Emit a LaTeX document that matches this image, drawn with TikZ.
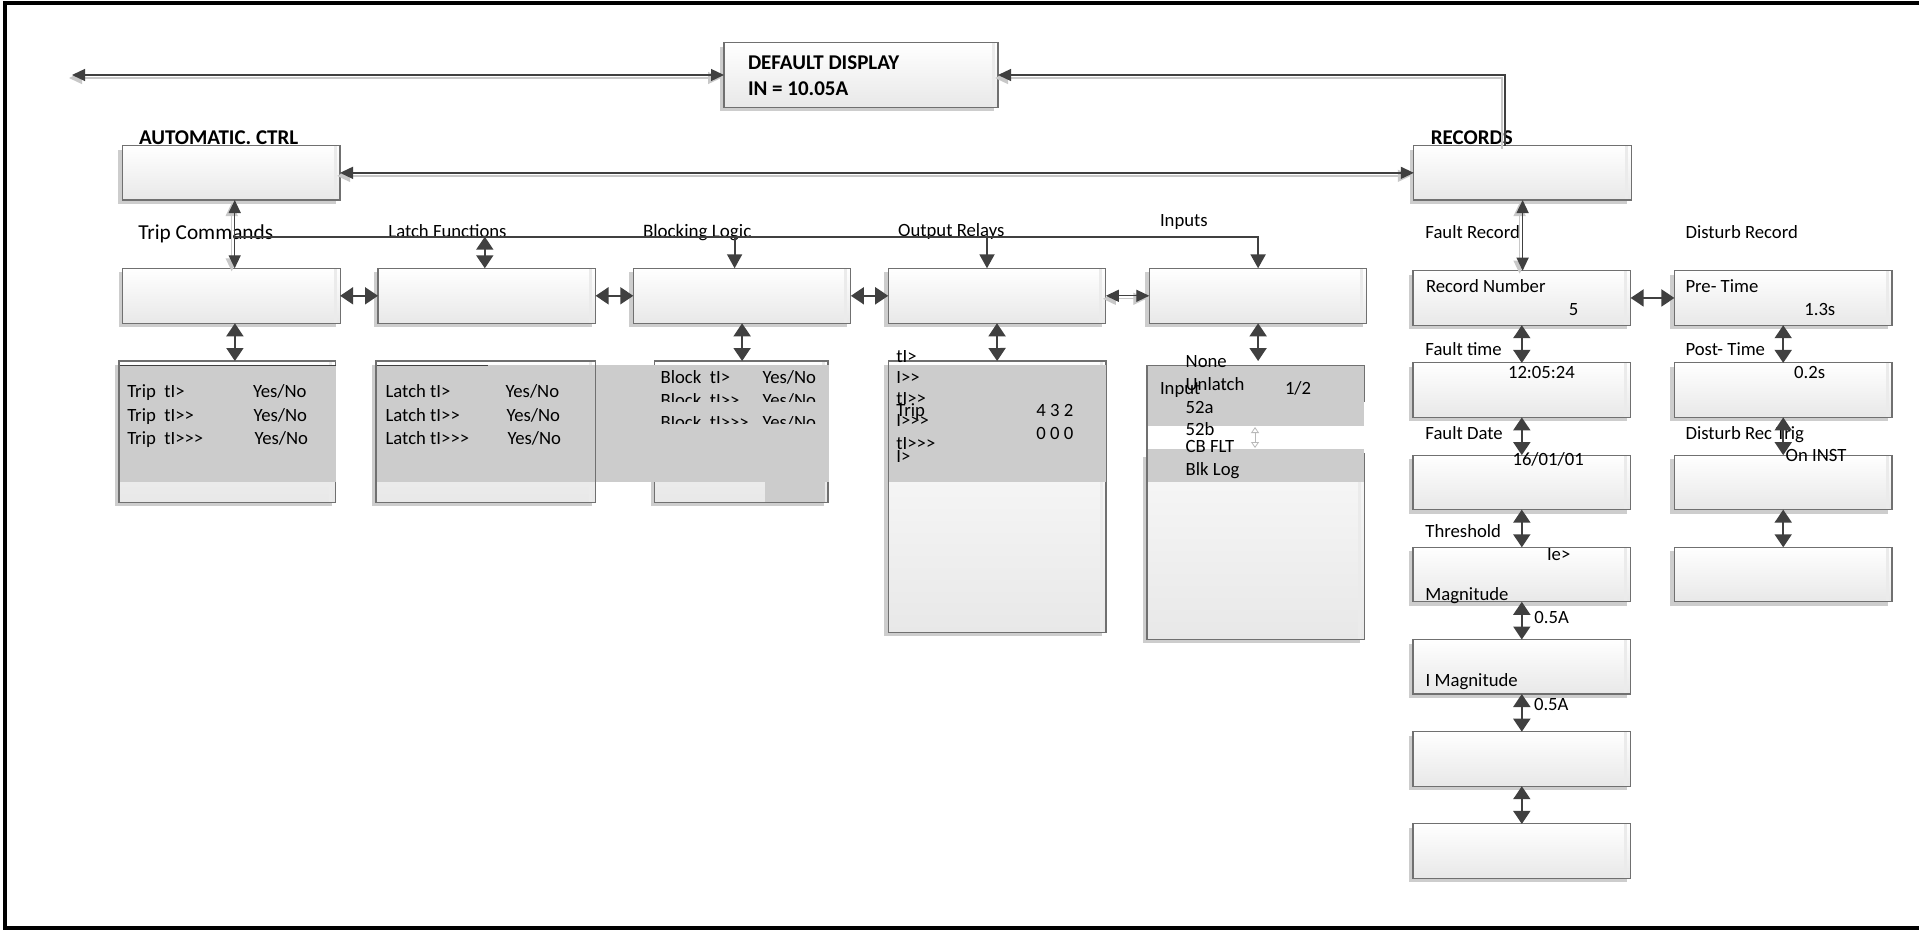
\documentclass[tikz,border=0pt]{standalone}
\usepackage{fontspec}
\setmainfont[Ligatures=TeXOff]{Carlito}
\usetikzlibrary{arrows.meta,shadows}
\definecolor{boxline}{RGB}{112,112,112}
\definecolor{boxbot}{RGB}{232,232,232}
\definecolor{shadowgray}{RGB}{205,205,205}
\definecolor{arrowdark}{RGB}{64,64,64}
\definecolor{lineshadow}{RGB}{200,200,200}
\definecolor{subgray}{RGB}{204,204,204}
\definecolor{ghost}{RGB}{185,185,185}
\newcommand\fsnorm{\fontsize{18.7}{22}\selectfont}
\newcommand\fsbig{\fontsize{21.3}{25}\selectfont}
\newcommand\fsblk{\fontsize{19}{22}\selectfont}
\newcommand\fsbold{\fontsize{21}{25}\selectfont\bfseries}
\tikzset{
  tipthin/.tip={Triangle[length=13pt,width=12pt]},
  tipthick/.tip={Triangle[length=13pt,width=17pt]},
  tipdrop/.tip={Triangle[length=14pt,width=15pt]},
  panel/.style={draw=boxline, line width=1.1pt, top color=white, bottom color=boxbot,
    inner sep=0pt, outer sep=0pt, anchor=north west,
    drop shadow={shadow xshift=-4pt, shadow yshift=-4pt, opacity=1, fill=shadowgray},
    path picture={\fill[gray!16] ([xshift=-6.5pt]path picture bounding box.north east)
      rectangle ([xshift=-3.5pt]path picture bounding box.south east);}},
  rowbox/.style={panel, minimum width=217.6pt, minimum height=55pt},
  colbox/.style={panel, minimum width=217.6pt, minimum height=54.5pt},
  lbl/.style={anchor=base west, inner sep=0pt, outer sep=0pt, font=\fsnorm},
  lblbold/.style={lbl, font=\fsbold},
  thinboth/.style={draw=arrowdark, line width=1.3pt, tipthin-tipthin,
    preaction={draw=lineshadow, line width=1.3pt, tipthin-tipthin,
      transform canvas={xshift=-3pt, yshift=-3pt}}},
  thinstart/.style={draw=arrowdark, line width=1.3pt, tipthin-,
    preaction={draw=lineshadow, line width=1.3pt, tipthin-,
      transform canvas={xshift=-3pt, yshift=-3pt}}},
  thickboth/.style={draw=arrowdark, line width=1.8pt, tipthick-tipthick},
  dropend/.style={draw=arrowdark, line width=1.8pt, -tipdrop},
  busline/.style={draw=arrowdark, line width=2.2pt, -tipdrop},
}
\begin{document}
\begin{tikzpicture}[x=1pt,y=-1pt]
\useasboundingbox (0,0) rectangle (1919,930);
\fill[white] (0,0) rectangle (1919,930);
% frame
\draw[line width=4pt, black] (1925,3) -- (5.3,3) -- (5.3,928) -- (1925,928);

% ---------- boxes ----------
\node[panel, minimum width=274pt, minimum height=64.6pt] (dd) at (724,42.7) {};
\node[panel, minimum width=217.6pt, minimum height=54.3pt] (auto) at (122.4,145.7) {};
\node[panel, minimum width=217.6pt, minimum height=54.3pt] (rec) at (1413.8,145.7) {};

\node[rowbox] (trip) at (122.5,268.3) {};
\node[rowbox] (latch) at (378,268.3) {};
\node[rowbox] (blk) at (633.3,268.3) {};
\node[rowbox] (outp) at (888.2,268.3) {};
\node[rowbox] (inp) at (1149.3,268.3) {};

\node[panel, minimum width=216.8pt, minimum height=141.3pt] (tripS) at (119,361) {};
\node[panel, minimum width=219.5pt, minimum height=141.3pt] (latchS) at (376,361) {};
\node[panel, minimum width=173.2pt, minimum height=141.3pt] (blkS) at (654.8,361) {};
\node[panel, minimum width=217.8pt, minimum height=271.3pt] (outS) at (888.2,361) {};
\node[panel, minimum width=217.3pt, minimum height=273.6pt] (inpS) at (1147,365.7) {};

\node[colbox] (rn) at (1413,270.7) {};
\node[colbox] (ft) at (1413,362.9) {};
\node[colbox] (fd) at (1413,455.1) {};
\node[colbox] (th) at (1413,547.3) {};
\node[colbox] (im) at (1413,639.5) {};
\node[colbox] (b6) at (1413,731.7) {};
\node[colbox] (b7) at (1413,823.9) {};
\node[colbox] (pt) at (1674.4,270.7) {};
\node[colbox] (pot) at (1674.4,362.9) {};
\node[colbox] (drt) at (1674.4,455.1) {};
\node[colbox] (b4) at (1674.4,547.3) {};

% ---------- grey fields ----------
\fill[subgray] (120,365) rectangle (335.8,481.7);
\draw[arrowdark, line width=1pt] (120,365) -- (335.8,365);
\fill[subgray] (376.5,365) rectangle (829.4,481.7);
\draw[arrowdark, line width=1pt] (376.5,365) -- (487.5,365);
\fill[subgray] (764.8,481.7) rectangle (824.6,501.7);
\draw[boxline, line width=1.1pt] (latchS.north east) -- (latchS.south east);
\fill[subgray] (888.7,365) rectangle (1105.5,481.7);
\fill[white] (1140,365) rectangle (1146.4,456.7);
\fill[subgray] (1147.5,365.7) rectangle (1364.3,425.7);
\fill[white] (1147.5,425.7) rectangle (1368,449.3);
\fill[subgray] (1147.5,449.3) rectangle (1364.3,481.7);
\fill[white] (1363.8,401.7) rectangle (1368.5,453);
\draw[boxline, line width=1.1pt] (inpS.north west) -- (inpS.south west);
\coordinate (g1) at (1255,427);
\coordinate (g2) at (1255,448);
\draw[ghost, line width=0.8pt, {Triangle[open,length=6pt,width=8pt]}-{Triangle[open,length=6pt,width=8pt]}] (g1) -- (g2);

% ---------- texts ----------
\node[lblbold] (t1) at (748,69) {DEFAULT DISPLAY};
\node[lblbold] (t2) at (748,95) {IN = 10.05A};
\node[lblbold] (t3) at (139,144) {AUTOMATIC. CTRL};
\node[lblbold] (t4) at (1430.8,144) {RECORDS};
\node[lbl, font=\fsbig] (t5) at (138.3,239.3) {Trip Commands};
\node[lbl] (t6) at (388.4,237.7) {Latch Functions};
\node[lbl, font=\fsblk] (t7) at (643,237.7) {Blocking Logic};
\node[lbl] (t8) at (898.2,236) {Output Relays};
\node[lbl] (t9) at (1160,226) {Inputs};
\node[lbl] (t10) at (1425.4,238.5) {Fault Record};
\node[lbl] (t11) at (1685.5,238.5) {Disturb Record};

\node[lbl] (a1) at (127.3,397.5) {Trip~~tI>};
\node[lbl] (a2) at (253,397.5) {Yes/No};
\node[lbl] (a3) at (127.3,421) {Trip~~tI>>};
\node[lbl] (a4) at (253.5,421) {Yes/No};
\node[lbl] (a5) at (127.3,444.3) {Trip~~tI>>>};
\node[lbl] (a6) at (254.5,444.3) {Yes/No};

\node[lbl] (b1) at (385.6,397.5) {Latch tI>};
\node[lbl] (b2) at (505.6,397.5) {Yes/No};
\node[lbl] (b3) at (385.6,421) {Latch tI>>};
\node[lbl] (b4t) at (506.5,421) {Yes/No};
\node[lbl] (b5) at (385.6,444.3) {Latch tI>>>};
\node[lbl] (b6t) at (507.5,444.3) {Yes/No};

\node[lbl] (c1) at (660.6,383.5) {Block~~tI>};
\node[lbl] (c2) at (762.5,383.5) {Yes/No};
\node[lbl] (c3) at (660.6,406) {Block~~tI>>};
\node[lbl] (c4) at (762.5,406) {Yes/No};
\node[lbl] (c5) at (660.6,428.5) {Block~~tI>>>};
\node[lbl] (c6) at (762.5,428.5) {Yes/No};
\fill[subgray] (655.5,401.7) rectangle (828,416.4);
\fill[subgray] (655.5,424) rectangle (828,442);

\node[lbl] (d1) at (896.4,362.2) {tI>};
\node[lbl] (d2) at (896.4,383.8) {I>>};
\node[lbl] (d3) at (896.4,404.5) {tI>>};
\node[lbl] (d4) at (896.4,416.5) {Trip};
\node[lbl] (d5) at (896.4,426.5) {I>>>};
\node[lbl] (d6) at (896.4,449.8) {tI>>>};
\node[lbl] (d7) at (896.4,462.2) {I>};
\node[lbl] (d8) at (1036.4,416.5) {4 3 2};
\node[lbl] (d9) at (1036.4,439.8) {0 0 0};

\node[lbl] (e1) at (1185.7,367.2) {None};
\node[lbl] (e2) at (1185.7,390.5) {Unlatch};
\node[lbl] (e3) at (1160,394.8) {Input};
\node[lbl] (e4) at (1285,394.8) {1/2};
\node[lbl] (e5) at (1185.7,413.8) {52a};
\node[lbl] (e6) at (1185.7,435.5) {52b};
\node[lbl] (e7) at (1185.7,452.2) {CB FLT};
\node[lbl] (e8) at (1185.7,475.5) {Blk Log};

\node[lbl] (f1) at (1426,292.7) {Record Number};
\node[lbl] (f2) at (1568.8,315.3) {5};
\node[lbl] (f3) at (1685.5,292.7) {Pre- Time};
\node[lbl] (f4) at (1804.3,315.3) {1.3s};
\node[lbl] (f5) at (1425.4,355.3) {Fault time};
\node[lbl] (f6) at (1508,378.7) {12:05:24};
\node[lbl] (f7) at (1685.5,355.3) {Post- Time};
\node[lbl] (f8) at (1794.2,378.7) {0.2s};
\node[lbl] (f9) at (1425.4,439.7) {Fault Date};
\node[lbl] (f10) at (1512.5,465.3) {16/01/01};
\node[lbl] (f11) at (1685.5,439.7) {Disturb Rec Trig};
\node[lbl] (f12) at (1785.7,461.3) {On INST};
\node[lbl] (f13) at (1425.4,537.7) {Threshold};
\node[lbl] (f14) at (1547,560.3) {Ie>};
\node[lbl] (f15) at (1425.4,600.3) {Magnitude};
\node[lbl] (f16) at (1534.4,623.7) {0.5A};
\node[lbl] (f17) at (1425.7,686.3) {I Magnitude};
\node[lbl] (f18) at (1534,710.3) {0.5A};

% ---------- connectors ----------
\coordinate (farL) at (72,75);
\coordinate (recTap) at (1505,145.7);
\coordinate (busL) at (234.9,236.7);
\draw[thinboth] (farL) -- (dd.west);
\draw[thinstart] (dd.east) -| (recTap);
\draw[thinboth] (auto.east) -- (rec.west);
\coordinate (as) at ([xshift=3.5pt]auto.south);
\draw[thinboth] (as) -- (as |- trip.north);
\draw[busline] (busL) -| (inp.north);
\coordinate (lt) at ([xshift=-2pt]latch.north);
\draw[thickboth] (lt |- busL) -- (lt);
\coordinate (bt) at ([xshift=-7.5pt]blk.north);
\draw[dropend] (bt |- busL) -- (bt);
\coordinate (ot) at ([xshift=-10pt]outp.north);
\draw[dropend] (ot |- busL) -- (ot);

\draw[thickboth] (trip.east) -- (latch.west);
\draw[thickboth] (latch.east) -- (blk.west);
\draw[thickboth] (blk.east) -- (outp.west);
\draw[thinboth] (outp.east) -- (inp.west);

\coordinate (ts) at ([xshift=3.6pt]trip.south);
\draw[thickboth] (ts) -- (ts |- tripS.north);
\draw[thickboth] (blk.south) -- (blk.south |- blkS.north);
\draw[thickboth] (outp.south) -- (outS.north);
\draw[thickboth] (inp.south) -- (inp.south |- outS.north);

\draw[thinboth] (rec.south) -- (rec.south |- rn.north);
\draw[thickboth] (rn.east) -- (pt.west);
\foreach \p/\q in {rn/ft, ft/fd, fd/th, th/im, im/b6, b6/b7, pt/pot, pot/drt, drt/b4}
  \draw[thickboth] (\p.south) -- (\q.north);
\end{tikzpicture}
\end{document}
